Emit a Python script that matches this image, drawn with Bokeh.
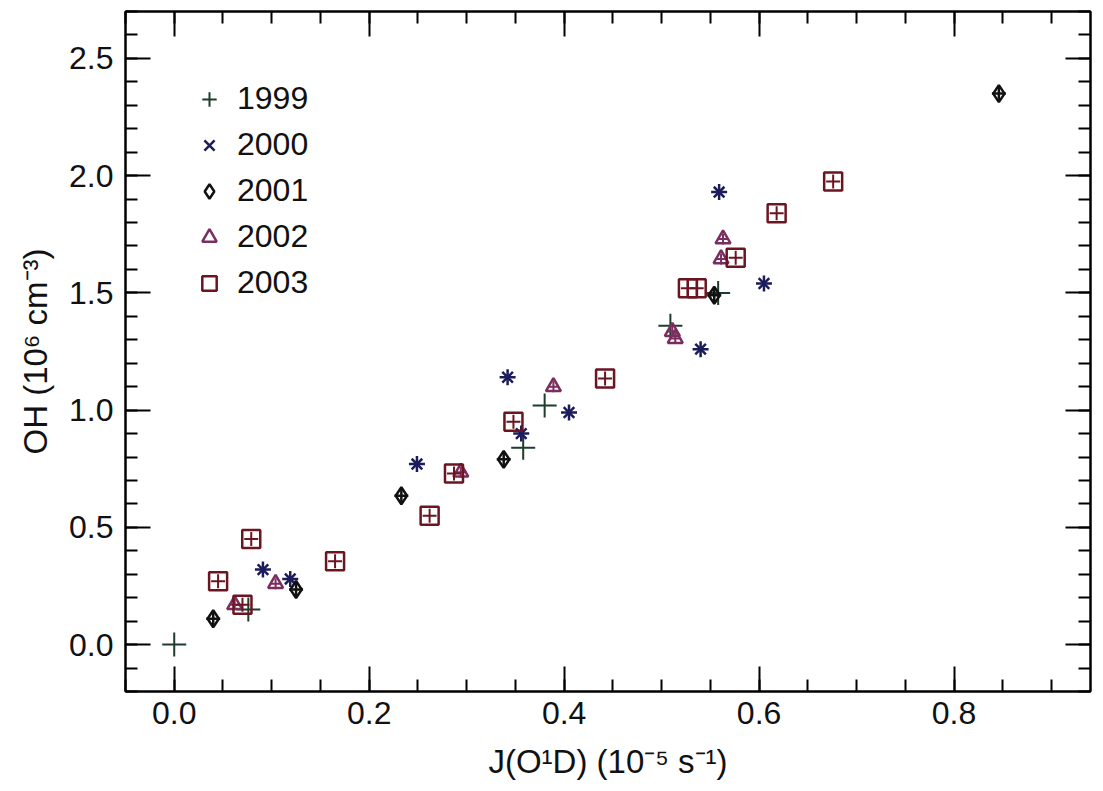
from bokeh.plotting import figure
from bokeh.models import (Range1d, LinearAxis, SingleIntervalTicker, Legend, LegendItem,
                          ColumnDataSource, PrintfTickFormatter)
from bokeh.embed import file_html
from bokeh.resources import INLINE

# J(O1D) photolysis frequency (1e-5 s^-1) and OH concentration (1e6 cm^-3) by year
yr1999_j = [0.0, 0.076, 0.358, 0.380, 0.509, 0.558]
yr1999_oh = [0.0, 0.15, 0.84, 1.02, 1.36, 1.50]

yr2000_j = [0.091, 0.119, 0.249, 0.342, 0.356, 0.405, 0.540, 0.559, 0.605]
yr2000_oh = [0.32, 0.28, 0.77, 1.14, 0.90, 0.99, 1.26, 1.93, 1.54]

yr2001_j = [0.040, 0.125, 0.233, 0.338, 0.554, 0.846]
yr2001_oh = [0.11, 0.235, 0.635, 0.79, 1.49, 2.35]

yr2002_j = [0.062, 0.104, 0.294, 0.389, 0.511, 0.514, 0.561, 0.563]
yr2002_oh = [0.17, 0.26, 0.735, 1.10, 1.335, 1.305, 1.645, 1.73]

yr2003_j = [0.045, 0.070, 0.079, 0.165, 0.262, 0.287, 0.348, 0.442, 0.527, 0.536,
            0.576, 0.618, 0.676]
yr2003_oh = [0.27, 0.17, 0.45, 0.355, 0.55, 0.73, 0.95, 1.135, 1.52, 1.52,
             1.65, 1.84, 1.975]

years = ["1999", "2000", "2001", "2002", "2003"]

FONT = "Liberation Sans"

p = figure(width=1103, height=791, output_backend="svg", toolbar_location=None,
           x_axis_location=None, y_axis_location=None,
           min_border_left=125, min_border_right=13, min_border_top=11, min_border_bottom=100)
p.x_range = Range1d(-0.05, 0.94)
p.y_range = Range1d(-0.2, 2.7)
p.xgrid.visible = False
p.ygrid.visible = False
p.background_fill_color = "white"
p.border_fill_color = "white"
p.outline_line_color = "black"
p.outline_line_width = 2


def style_axis(ax, ticker, show_labels):
    ax.ticker = ticker
    ax.formatter = PrintfTickFormatter(format="%.1f")
    ax.axis_line_color = "black"
    ax.axis_line_width = 2
    ax.major_tick_in = 25
    ax.major_tick_out = 0
    ax.minor_tick_in = 12
    ax.minor_tick_out = 0
    ax.major_tick_line_width = 2
    ax.minor_tick_line_width = 2
    ax.major_tick_line_color = "black"
    ax.minor_tick_line_color = "black"
    ax.major_label_text_font = FONT
    ax.major_label_text_font_size = "32px"
    ax.major_label_text_color = "#111111"
    ax.axis_label_text_font = FONT
    ax.axis_label_text_font_size = "33px"
    ax.axis_label_text_font_style = "normal"
    ax.axis_label_text_color = "#111111"
    if not show_labels:
        ax.major_label_text_font_size = "0px"
        ax.major_label_text_alpha = 0


def xt():
    return SingleIntervalTicker(interval=0.2, num_minor_ticks=4)


def yt():
    return SingleIntervalTicker(interval=0.5, num_minor_ticks=5)


xb = LinearAxis(axis_label="J(O¹D) (10⁻⁵ s⁻¹)")
style_axis(xb, xt(), True)
xb.major_label_standoff = 10
xb.axis_label_standoff = 16
p.add_layout(xb, "below")

xa = LinearAxis()
style_axis(xa, xt(), False)
p.add_layout(xa, "above")

yl = LinearAxis(axis_label="OH (10⁶ cm⁻³)")
style_axis(yl, yt(), True)
yl.major_label_standoff = 12
yl.axis_label_standoff = 12
p.add_layout(yl, "left")

yr = LinearAxis()
style_axis(yr, yt(), False)
p.add_layout(yr, "right")

c1999 = "#1e3d2a"
c2000 = "#1c1c5c"
c2001 = "#111111"
c2002 = "#7a2e5e"
c2003 = "#6b1520"

s1999 = ColumnDataSource(dict(x=yr1999_j, y=yr1999_oh))
s2000 = ColumnDataSource(dict(x=yr2000_j, y=yr2000_oh))
s2001 = ColumnDataSource(dict(x=yr2001_j, y=yr2001_oh))
s2002 = ColumnDataSource(dict(x=yr2002_j, y=yr2002_oh))
s2003 = ColumnDataSource(dict(x=yr2003_j, y=yr2003_oh))

r1999 = p.scatter("x", "y", source=s1999, marker="cross", size=24,
                  line_color=c1999, line_width=2)
r2000 = p.scatter("x", "y", source=s2000, marker="x", size=15,
                  line_color=c2000, line_width=2.5)
p.scatter("x", "y", source=s2000, marker="cross", size=16,
          line_color=c2000, line_width=2.5)
r2001 = p.scatter("x", "y", source=s2001, marker="diamond", size=17,
                  line_color=c2001, line_width=2.5, fill_color=None)
p.scatter("x", "y", source=s2001, marker="cross", size=14,
          line_color=c2001, line_width=2.5)
r2002 = p.scatter("x", "y", source=s2002, marker="triangle", size=15,
                  line_color=c2002, line_width=2.5, fill_color=None)
p.scatter("x", "y", source=s2002, marker="cross", size=11,
          line_color=c2002, line_width=2)
r2003 = p.scatter("x", "y", source=s2003, marker="square", size=18,
                  line_color=c2003, line_width=2.5, fill_color=None)
p.scatter("x", "y", source=s2003, marker="cross", size=14,
          line_color=c2003, line_width=2)

legend = Legend(items=[LegendItem(label=lab, renderers=[r])
                       for lab, r in zip(years, [r1999, r2000, r2001, r2002, r2003])],
                location=(66, 390), orientation="vertical")
legend.background_fill_alpha = 0
legend.border_line_color = None
legend.label_text_font = FONT
legend.label_text_font_size = "32px"
legend.label_text_color = "#111111"
legend.padding = 0
legend.margin = 0
legend.spacing = 9
legend.glyph_width = 36
legend.glyph_height = 36
legend.label_height = 30
legend.label_standoff = 10
p.add_layout(legend, "center")

open("out.html", "w").write(file_html(p, INLINE))
